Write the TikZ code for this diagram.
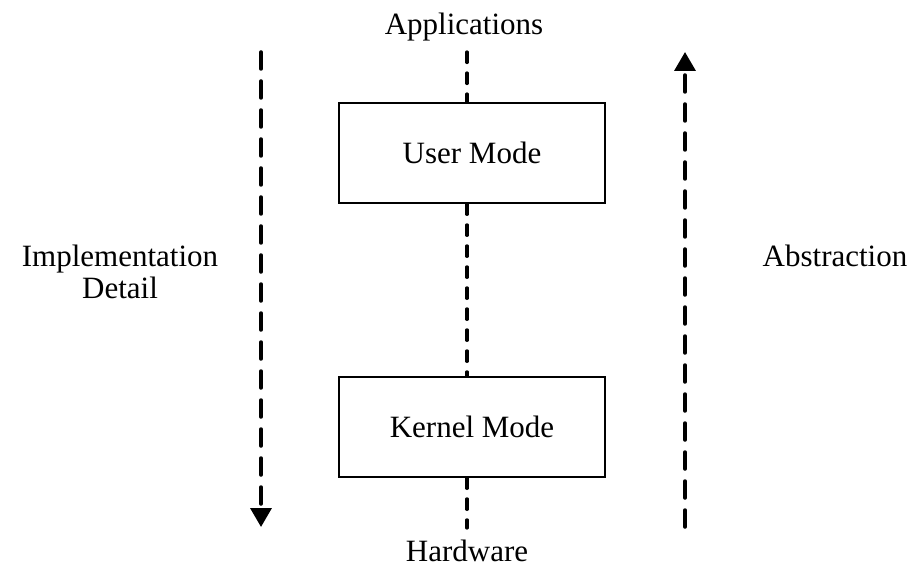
\documentclass[tikz,border=0pt]{standalone}
\usepackage{fontspec}
\setmainfont{Liberation Serif}
\usetikzlibrary{arrows.meta}
\begin{document}
\begin{tikzpicture}[x=1pt,y=1pt,
  lbl/.style={font=\fontsize{31}{32}\selectfont, inner sep=0pt},
  modebox/.style={draw, line width=1.8pt, minimum width=266pt, minimum height=100pt, font=\fontsize{31}{32}\selectfont},
  midline/.style={line width=3.2pt, line cap=round, dash pattern=on 10.5pt off 10.5pt},
  bigarrow/.style={line width=3.5pt, line cap=round, dash pattern=on 17pt off 12pt, -{Triangle[length=19pt,width=21pt]}}
]
\useasboundingbox (0,0) rectangle (916,566);
\node[lbl, anchor=base] (app) at (464,531) {Applications};
\node[lbl, anchor=base] (hw) at (467,5) {Hardware};
\node[modebox] (user) at (472,413) {User Mode};
\node[modebox] (kernel) at (472,139) {Kernel Mode};
\node[lbl, anchor=base, align=center] (impl) at (120,268) {Implementation\\Detail};
\node[lbl, anchor=base] (abs) at (835,299) {Abstraction};
\coordinate (t) at (467,514);
\coordinate (b) at (467,38);
\draw[midline] (t) -- (t |- user.north);
\draw[midline] (t |- user.south) -- (t |- kernel.north);
\draw[midline] (t |- kernel.south) -- (b);
\coordinate (ls) at (261,514);
\coordinate (le) at (261,39);
\coordinate (rs) at (685,39);
\coordinate (re) at (685,514);
\draw[bigarrow] (ls) -- (le);
\draw[bigarrow] (rs) -- (re);
\end{tikzpicture}
\end{document}
